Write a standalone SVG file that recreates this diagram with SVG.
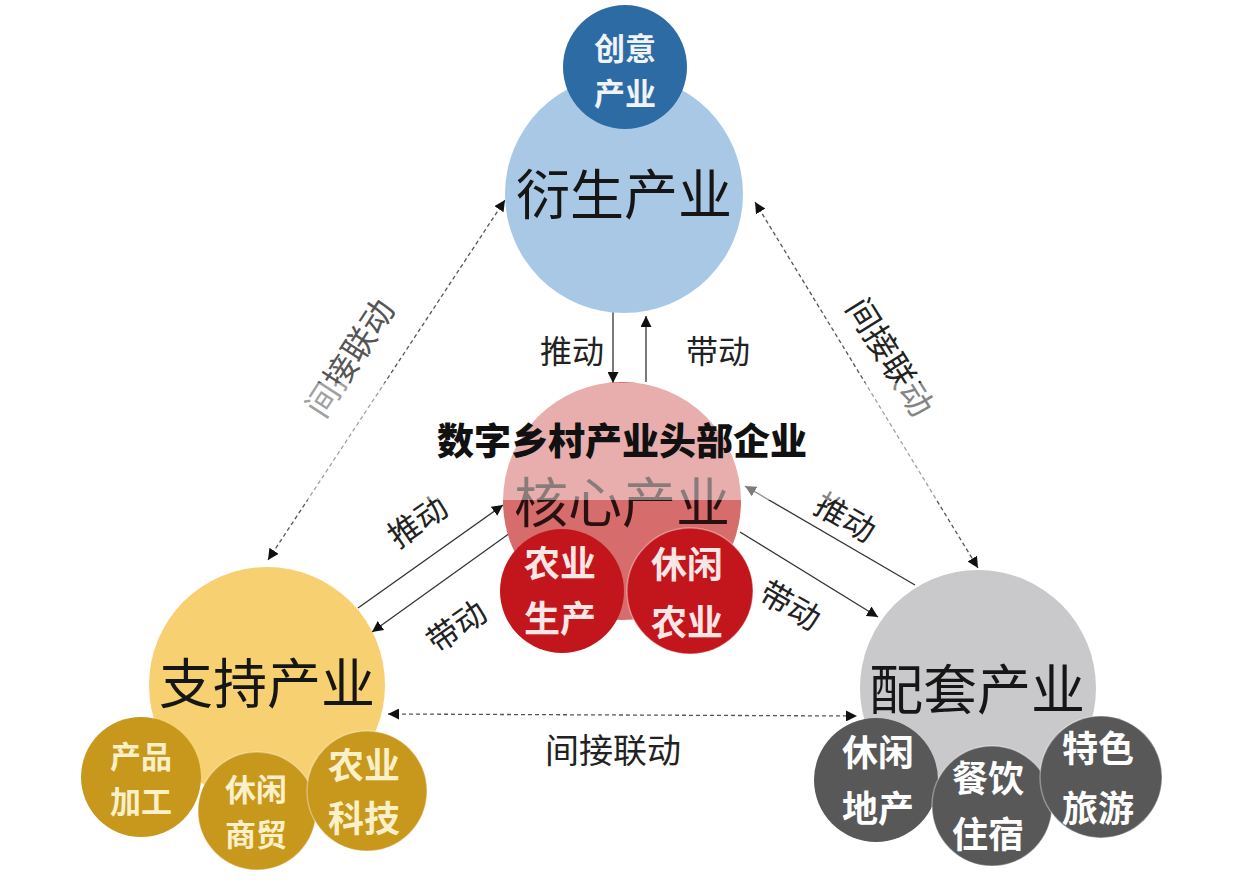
<svg xmlns="http://www.w3.org/2000/svg" width="1244" height="884" viewBox="0 0 1244 884">
<style>
text{font-family:"Noto Sans CJK SC","Noto Sans",sans-serif;text-anchor:middle}
.big{font-size:54px;fill:#161616}
.small{font-size:36px;font-weight:700}
.tight{font-size:31px}
.lbl{font-size:32px;fill:#222}
.title{font-size:37px;font-weight:900;fill:#111}
.ln{stroke:#333;stroke-width:1.3;fill:none}
.dash{stroke:#555;stroke-width:1.3;fill:none;stroke-dasharray:4 3}
.sep{stroke:#ffffff;stroke-opacity:0.35;stroke-width:1.5}
</style>
<defs>
<marker id="ah" viewBox="0 0 10 10" refX="10" refY="5" markerWidth="11" markerHeight="11" markerUnits="userSpaceOnUse" orient="auto-start-reverse">
<path d="M0,0 L10,5 L0,10 z" fill="#111"/>
</marker>
</defs>
<rect width="1244" height="884" fill="#ffffff"/>

<g id="connectors">
<line class="dash" x1="505" y1="200" x2="268" y2="560" marker-start="url(#ah)" marker-end="url(#ah)"/>
<line class="dash" x1="755" y1="202" x2="978" y2="568" marker-start="url(#ah)" marker-end="url(#ah)"/>
<line class="dash" x1="388" y1="714" x2="857" y2="716" marker-start="url(#ah)" marker-end="url(#ah)"/>
<line class="ln" x1="613" y1="312" x2="613" y2="383" marker-end="url(#ah)"/>
<line class="ln" x1="646" y1="382" x2="646" y2="316" marker-end="url(#ah)"/>
<line class="ln" x1="358" y1="608" x2="503" y2="505" marker-end="url(#ah)"/>
<line class="ln" x1="510" y1="533" x2="372" y2="632" marker-end="url(#ah)"/>
<line class="ln" x1="915" y1="585" x2="745" y2="486" marker-end="url(#ah)"/>
<line class="ln" x1="740" y1="532" x2="878" y2="617" marker-end="url(#ah)"/>
<text class="lbl" x="572" y="363">推动</text>
<text class="lbl" x="718" y="363">带动</text>
<text class="lbl" transform="translate(418,522) rotate(-35)" x="0" y="11">推动</text>
<text class="lbl" transform="translate(457,627) rotate(-35)" x="0" y="11">带动</text>
<text class="lbl" transform="translate(845,518) rotate(30)" x="0" y="11">推动</text>
<text class="lbl" transform="translate(790,606) rotate(30)" x="0" y="11">带动</text>
<text class="lbl" style="fill:#555;font-size:33px" transform="translate(350,358) rotate(-57)" x="0" y="12">间接联动</text>
<text class="lbl" style="font-size:33px" transform="translate(890,357) rotate(58)" x="0" y="12">间接联动</text>
<text class="lbl" style="font-size:34px" x="613" y="763">间接联动</text>
</g>

<g id="node-derivative">
<circle cx="624" cy="194" r="119" fill="#a9c8e6"/>
<text class="big" x="624" y="215">衍生产业</text>
</g>
<g id="node-creative">
<circle cx="625" cy="67" r="62" fill="#2d6ba4"/>
<text class="small tight" fill="#eef4fa"><tspan x="625" y="60">创意</tspan><tspan x="625" y="105">产业</tspan></text>
</g>

<g id="node-core">
<circle cx="622" cy="501" r="119" fill="#d66c6c"/>
<text class="big" x="622" y="523" style="fill:#2a1010">核心产业</text>
</g>
<g id="node-core-production">
<circle cx="562" cy="591" r="62" fill="#c3161c"/>
<text class="small" fill="#fbe6e6"><tspan x="560" y="577">农业</tspan><tspan x="560" y="632">生产</tspan></text>
</g>
<g id="node-core-leisure">
<circle class="sep" cx="690" cy="591" r="63" fill="#c3161c"/>
<text class="small" fill="#fbe6e6"><tspan x="687" y="578">休闲</tspan><tspan x="687" y="636">农业</tspan></text>
</g>

<g id="node-support">
<circle cx="267" cy="685" r="118" fill="#f6d071"/>
<text class="big" x="267" y="704">支持产业</text>
</g>
<g id="node-support-processing">
<circle cx="141" cy="777" r="60" fill="#c8981d"/>
<text class="small tight" fill="#fcf0c8"><tspan x="141" y="768">产品</tspan><tspan x="141" y="813">加工</tspan></text>
</g>
<g id="node-support-trade">
<circle class="sep" cx="257" cy="811" r="59" fill="#c8981d"/>
<text class="small tight" fill="#fcf0c8"><tspan x="256" y="801">休闲</tspan><tspan x="256" y="846">商贸</tspan></text>
</g>
<g id="node-support-tech">
<circle class="sep" cx="367" cy="791" r="60" fill="#c8981d"/>
<text class="small" fill="#fcf0c8"><tspan x="364" y="779">农业</tspan><tspan x="364" y="832">科技</tspan></text>
</g>

<g id="node-supporting">
<circle cx="978" cy="688" r="118" fill="#c9c9cb"/>
<text class="big" x="977" y="710">配套产业</text>
</g>
<g id="node-supporting-realestate">
<circle cx="876" cy="780" r="62" fill="#585858"/>
<text class="small" fill="#ffffff"><tspan x="878" y="766">休闲</tspan><tspan x="878" y="822">地产</tspan></text>
</g>
<g id="node-supporting-catering">
<circle class="sep" cx="992" cy="806" r="60" fill="#585858"/>
<text class="small" fill="#ffffff"><tspan x="988" y="792">餐饮</tspan><tspan x="988" y="848">住宿</tspan></text>
</g>
<g id="node-supporting-tourism">
<circle class="sep" cx="1101" cy="777" r="61" fill="#585858"/>
<text class="small" fill="#ffffff"><tspan x="1098" y="762">特色</tspan><tspan x="1098" y="822">旅游</tspan></text>
</g>

<rect x="0" y="383" width="1244" height="117" fill="#ffffff" fill-opacity="0.45"/>
<g id="title">
<text class="title" x="622" y="455">数字乡村产业头部企业</text>
</g>
</svg>
